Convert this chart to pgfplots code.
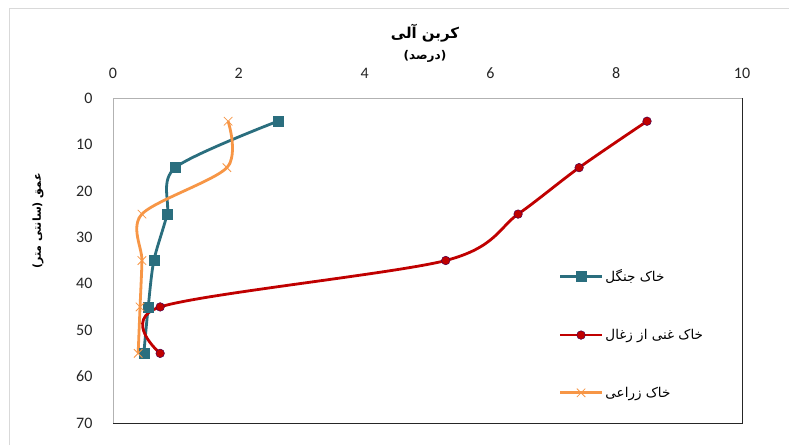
\documentclass[border=0pt]{standalone}
\usepackage{fontspec}
\usepackage{pgfplots}
\pgfplotsset{compat=1.18}
\TeXXeTstate=1
\newfontfamily\arabicfont[Script=Arabic]{DejaVu Sans}
\newfontfamily\carlito{Carlito}
\definecolor{cteal}{HTML}{2A6E7E}
\definecolor{cred}{HTML}{C00000}
\definecolor{corange}{HTML}{F79646}
\definecolor{cborder}{HTML}{D9D9D9}
\begin{document}
\begin{tikzpicture}[x=1pt,y=1pt]
\useasboundingbox (0,0) rectangle (789,445);
\fill[white] (0,0) rectangle (789,445);
\draw[cborder,line width=1pt] (9,0) -- (9,436) -- (789,436);
\begin{axis}[
  at={(113pt,22pt)}, anchor=south west,
  scale only axis, width=629pt, height=325pt,
  xmin=0, xmax=10, ymin=0, ymax=70,
  y dir=reverse,
  xtick={0,2,...,10}, ytick={0,10,...,70},
  xticklabel pos=upper,
  major tick length=0pt,
  axis line style={gray!60, line width=0.8pt},
  /pgf/number format/assume math mode=true,
  ticklabel style={font=\carlito\fontsize{16}{19}\selectfont, text=black!85},
  xticklabel style={yshift=16pt},
  yticklabel style={xshift=-17pt},
  legend cell align=left,
  legend style={at={(axis description cs:0.705,0.485)}, anchor=north west, draw=none, fill=none,
    row sep=42pt, font=\arabicfont\fontsize{13.5}{16}\selectfont, inner sep=2pt},
  legend image code/.code={\draw[mark repeat=2,mark phase=2] plot coordinates {(0pt,0pt)(21pt,0pt)(42pt,0pt)};},
  clip=false,
]
\addplot[cteal, line width=2.8pt, smooth, tension=0.5, mark=square*, mark size=5pt, mark options={solid, line width=0.5pt}]
  coordinates {(2.62,5) (0.99,15) (0.86,25) (0.65,35) (0.56,45) (0.49,55)};
\addlegendentry{\beginR خاک جنگل\endR}
\addplot[cred, line width=2.8pt, smooth, tension=0.5, mark=*, mark size=4.3pt, mark options={solid, line width=0.5pt, draw=violet!60!black, fill=cred}]
  coordinates {(8.49,5) (7.41,15) (6.44,25) (5.29,35) (0.75,45) (0.75,55)};
\addlegendentry{\beginR خاک غنی از زغال\endR}
\addplot[corange, line width=2.8pt, smooth, tension=0.5, mark=x, mark size=6pt, mark options={solid, line width=0.8pt}]
  coordinates {(1.83,5) (1.81,15) (0.46,25) (0.46,35) (0.43,45) (0.40,55)};
\addlegendentry{\beginR خاک زراعی\endR}
\draw[black!85, line width=1pt] (axis description cs:0,0) -- (axis description cs:1,0) -- (axis description cs:1,1);
\end{axis}
\node[font=\arabicfont\bfseries\fontsize{15}{18}\selectfont] at (425,412) {\beginR کربن آلی\endR};
\node[font=\arabicfont\bfseries\fontsize{12}{14}\selectfont] at (425,389) {\beginR (درصد)\endR};
\node[font=\arabicfont\bfseries\fontsize{11}{13}\selectfont, rotate=90] at (38,224) {\beginR عمق (سانتی متر)\endR};
\end{tikzpicture}
\end{document}
